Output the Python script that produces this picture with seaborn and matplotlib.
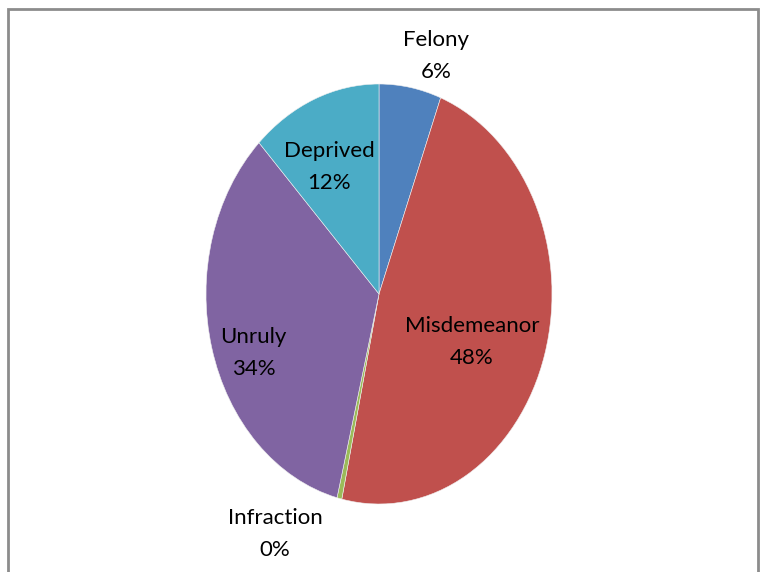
import numpy as np
import matplotlib
matplotlib.use("Agg")
import matplotlib.pyplot as plt
from matplotlib.patches import Rectangle
import seaborn as sns

sns.set_theme(style="white")
plt.rcParams['font.family'] = ['Lato', 'DejaVu Sans']

categories = ["Felony", "Misdemeanor", "Infraction", "Unruly", "Deprived"]
values = [5.8, 47.65, 0.45, 33.9, 12.2]
colors = ["#4F81BD", "#C0504D", "#9BBB59", "#8064A2", "#4BACC6"]
# label placement: distance along the wedge's mid-angle plus a small nudge
label_dist = [1.15, 0.56, 1.17, 0.75, 0.70]
label_nudge = [(0.121, 0.002), (0.0, -0.068), (-0.333, -0.004), (0.0, -0.088), (-0.027, -0.044)]

W, H = 765, 572
fig = plt.figure(figsize=(W / 100, H / 100), dpi=100)
ax = fig.add_axes([0, 0, 1, 1])

wedges, _ = ax.pie(values, colors=colors, startangle=90, counterclock=False,
                   wedgeprops=dict(edgecolor="#f0f0f0", linewidth=0.4))

# elliptical pie: horizontal radius 173 px, vertical radius 210 px, centre (379, 294)
rx, ry, cx, cy = 173, 210, 379, 294
ax.set_aspect('auto')
ax.set_xlim(-cx / rx, (W - cx) / rx)
ax.set_ylim(-(H - cy) / ry, cy / ry)
ax.axis('off')

total = sum(values)
for w, name, v, d, (nx, ny) in zip(wedges, categories, values, label_dist, label_nudge):
    ang = np.deg2rad((w.theta1 + w.theta2) / 2)
    x, y = d * np.cos(ang) + nx, d * np.sin(ang) + ny
    ax.text(x, y, f"{name}\n{round(v / total * 100):.0f}%", ha="center", va="center",
            fontsize=16, color="black", linespacing=1.75)

fig.add_artist(Rectangle((7.5 / W, -0.05), (758 - 7.5) / W, 1.05 - 8.5 / H,
                         transform=fig.transFigure, fill=False,
                         edgecolor="#8c8c8c", linewidth=2))

fig.savefig("out.png", dpi=100)
